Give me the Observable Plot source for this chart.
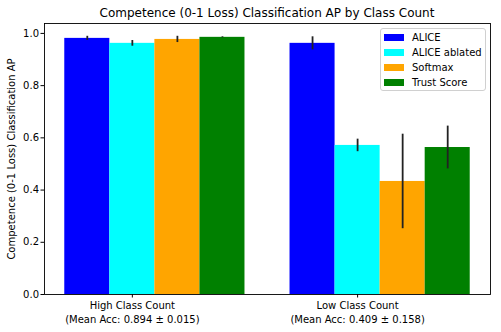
<!DOCTYPE html>
<html>
<head>
<meta charset="utf-8">
<script src="https://cdn.jsdelivr.net/npm/d3@7"></script>
<script src="https://cdn.jsdelivr.net/npm/@observablehq/plot@0.6"></script>
<style>
  html, body { margin: 0; padding: 0; background: #fff; }
  body { font-family: "DejaVu Sans", sans-serif; }
  #wrap { position: relative; width: 501px; height: 332px; }
  #title { height: 22px; line-height: 26px; font-size: 12px; text-align: center; width: 534px; white-space: nowrap; }
  #legend { position: absolute; left: 380px; top: 28px; width: 104px; height: 61px; border: 1px solid #d0d0d0; border-radius: 3px; background: rgba(255,255,255,0.8); font-size: 10px; }
  .row { position: absolute; left: 3px; height: 14px; display: flex; align-items: center; white-space: nowrap; }
  .sw { width: 20px; height: 7px; margin-right: 8px; }
</style>
</head>
<body>
<div id="wrap">
  <div id="title">Competence (0-1 Loss) Classification AP by Class Count</div>
  <div id="chart"></div>
  <div id="legend"></div>
</div>
<script>
const groups = ["High Class Count\n(Mean Acc: 0.894 ± 0.015)", "Low Class Count\n(Mean Acc: 0.409 ± 0.158)"];
const methods = ["ALICE", "ALICE ablated", "Softmax", "Trust Score"];
const colors = ["#0000ff", "#00ffff", "#ffa500", "#008000"];
const highValues = [0.981, 0.962, 0.977, 0.985];
const highErrors = [0.008, 0.011, 0.012, 0.002];
const lowValues = [0.962, 0.571, 0.433, 0.563];
const lowErrors = [0.025, 0.024, 0.181, 0.082];
const yTicks = [0, 0.2, 0.4, 0.6, 0.8, 1.0];
const yLabel = "Competence (0-1 Loss) Classification AP";

const barW = 0.2;
const values = [highValues, lowValues];
const errors = [highErrors, lowErrors];
const data = groups.flatMap((g, gi) => methods.map((m, mi) => {
  const c = gi + (mi - 1) * barW;
  return {g: gi, m, v: values[gi][mi], e: errors[gi][mi], c, x1: c - barW / 2, x2: c + barW / 2};
}));

const chart = Plot.plot({
  width: 501,
  height: 310,
  marginTop: 1,
  marginBottom: 38,
  marginLeft: 44,
  marginRight: 11,
  style: {fontFamily: "DejaVu Sans, sans-serif", fontSize: "10px", color: "black", background: "white"},
  x: {type: "linear", domain: [-0.39, 1.59]},
  y: {domain: [0, 1.038]},
  color: {domain: methods, range: colors},
  marks: [
    Plot.rect(data, {x1: "x1", x2: "x2", y1: d => 0, y2: "v", fill: "m"}),
    Plot.ruleX(data, {x: "c", y1: d => d.v - d.e, y2: d => d.v + d.e, stroke: "#222", strokeWidth: 1.8}),
    Plot.axisY({ticks: yTicks, tickFormat: ".1f", tickSize: 3.5, tickPadding: 2, label: yLabel, labelAnchor: "center", labelArrow: "none", labelOffset: 37}),
    Plot.axisX({ticks: [0, 1], tickFormat: i => groups[i], tickSize: 3.5, tickPadding: 1.5, label: null, lineHeight: 1.35}),
    Plot.frame({stroke: "black", strokeWidth: 0.9})
  ]
});
document.getElementById("chart").appendChild(chart);

const legend = document.getElementById("legend");
methods.forEach((m, i) => {
  const row = document.createElement("div");
  row.className = "row";
  row.style.top = (1 + i * 15.2) + "px";
  const sw = document.createElement("div");
  sw.className = "sw";
  sw.style.background = colors[i];
  const t = document.createElement("span");
  t.textContent = m;
  row.appendChild(sw);
  row.appendChild(t);
  legend.appendChild(row);
});
</script>
</body>
</html>
